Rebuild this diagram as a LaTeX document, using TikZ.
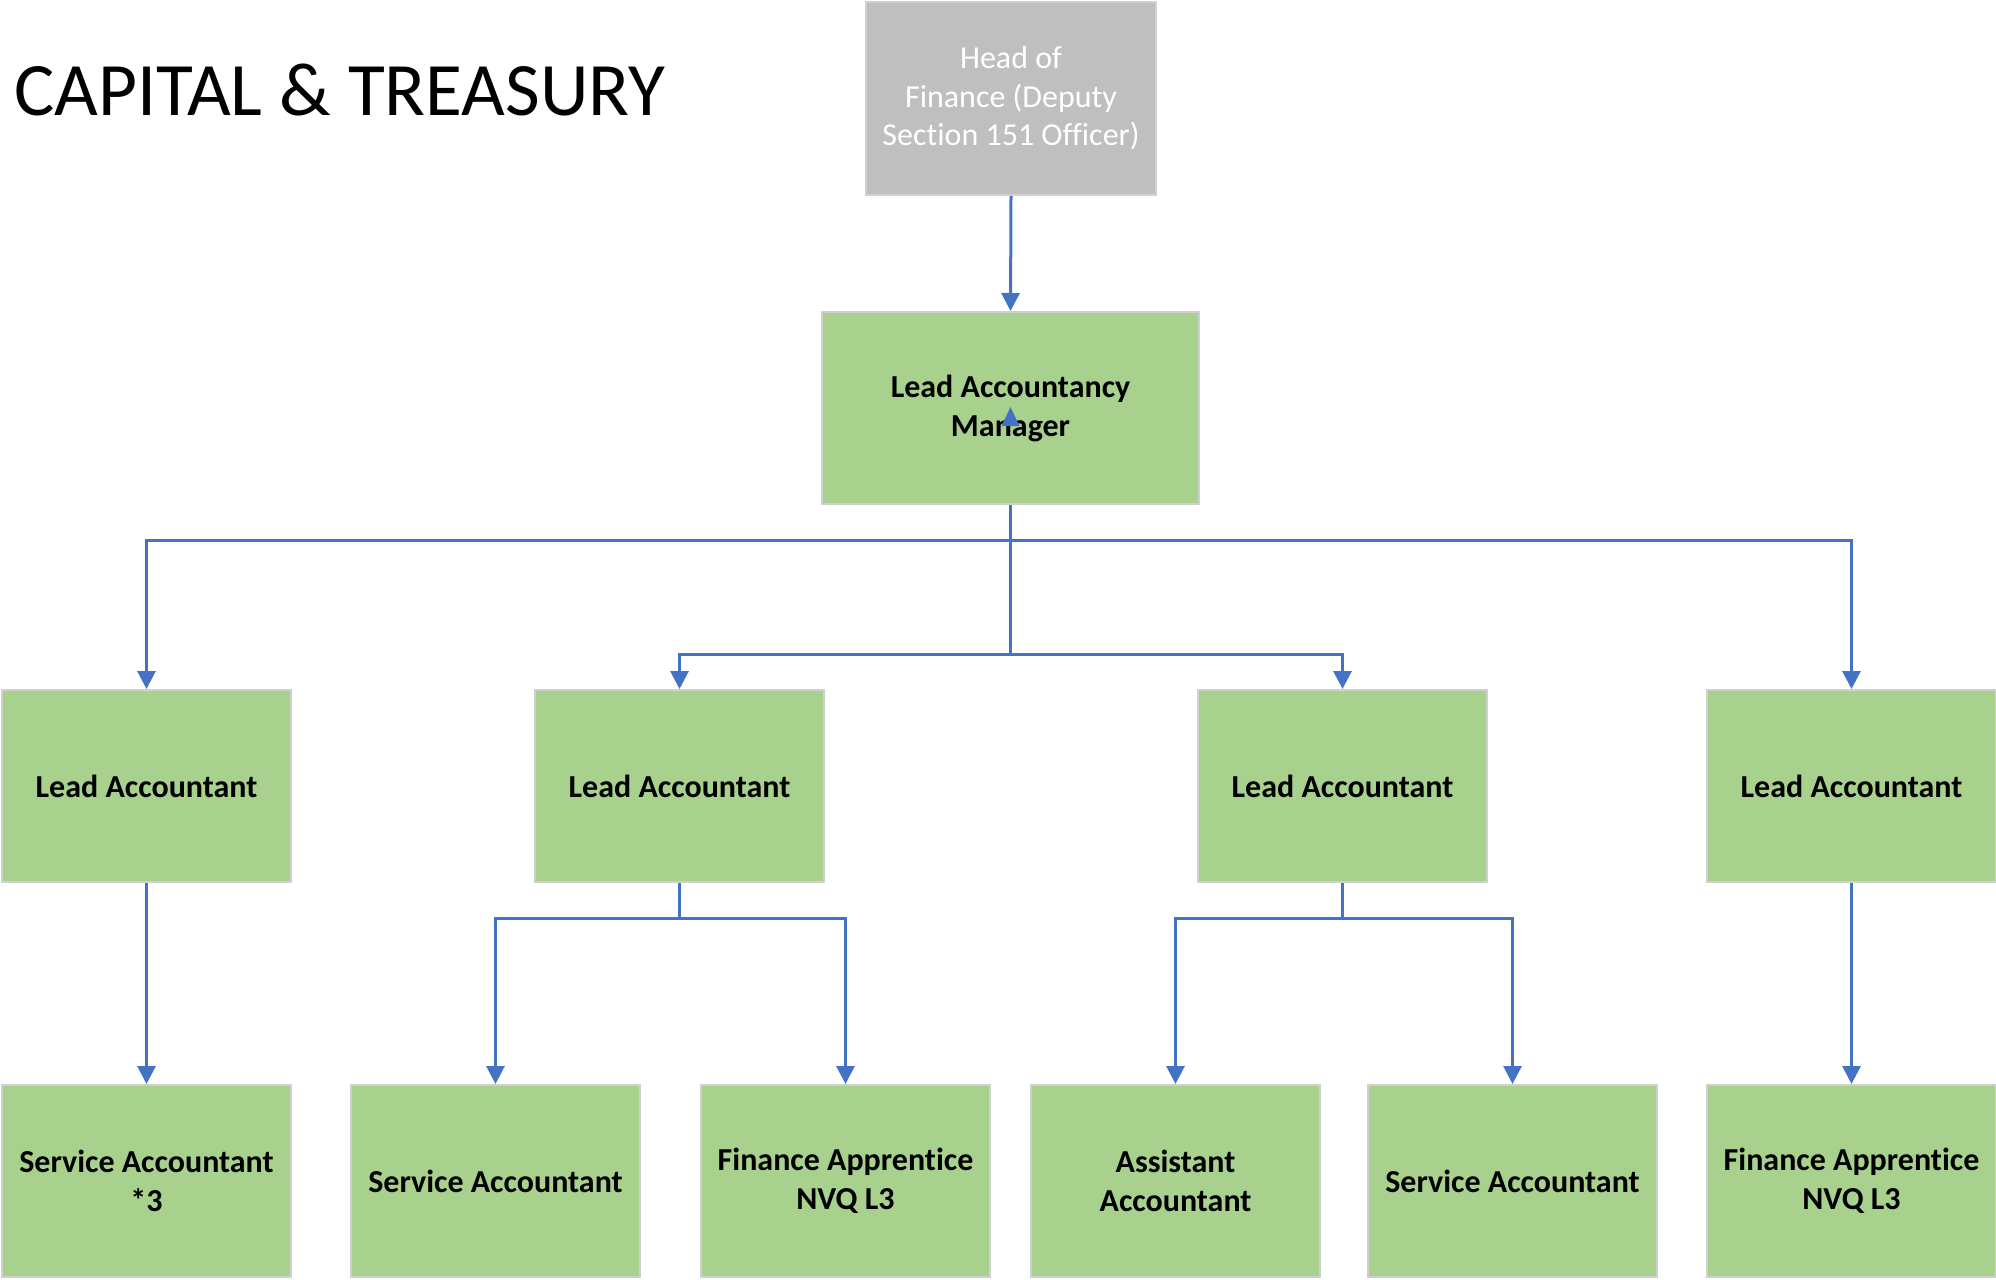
\documentclass[tikz,border=0pt]{standalone}
\usepackage{fontspec}
\setmainfont{Carlito}[Ligatures=NoCommon]
\usetikzlibrary{arrows.meta}
\definecolor{boxgreen}{HTML}{A9D18E}
\definecolor{boxgray}{HTML}{BFBFBF}
\definecolor{edgegray}{HTML}{D0D0D0}
\definecolor{linkblue}{HTML}{4472C4}
\tikzset{
  orgbox/.style={draw=edgegray, line width=2pt, fill=boxgreen, minimum width=289pt, minimum height=192pt, inner sep=0pt, align=center, font=\fontsize{32}{39}\selectfont\bfseries},
  headbox/.style={draw=edgegray, line width=2pt, fill=boxgray, minimum width=290pt, minimum height=193pt, inner sep=0pt, align=center, text=white, font=\fontsize{32}{38.5}\selectfont},
  conn/.style={draw=linkblue, line width=3pt},
  arr/.style={conn, -{Triangle[width=18pt,length=18pt]}},
}
\begin{document}
\begin{tikzpicture}[x=1pt,y=-1pt]
\useasboundingbox (0,0) rectangle (1996,1279);
\fill[white] (0,0) rectangle (1996,1279);

\node[anchor=base west, inner sep=0pt, font=\fontsize{75.5}{80}\selectfont] (title) at (14,116) {CAPITAL \& TREASURY};

\node[headbox] (head) at (1011,98.5) {Head of\\Finance (Deputy\\Section 151 Officer)};
\node[orgbox, minimum width=377pt] (mgr) at (1010.5,408) {Lead Accountancy\\Manager};

\node[orgbox] (LA1) at (146.5,786) {Lead Accountant};
\node[orgbox] (LA2) at (679.5,786) {Lead Accountant};
\node[orgbox] (LA3) at (1342.5,786) {Lead Accountant};
\node[orgbox] (LA4) at (1851.5,786) {Lead Accountant};

\node[orgbox] (SA1) at (146.5,1181) {Service Accountant\\*3};
\node[orgbox] (SA2) at (495.5,1181) {Service Accountant};
\node[orgbox] (FA1) at (845.5,1181) {Finance Apprentice\\NVQ L3};
\node[orgbox] (AA) at (1175.5,1181) {Assistant\\Accountant};
\node[orgbox] (SA3) at (1512.5,1181) {Service Accountant};
\node[orgbox] (FA2) at (1851.5,1181) {Finance Apprentice\\NVQ L3};

\coordinate (j1) at (1010.5,540);
\coordinate (j2) at (1010.5,654);
\coordinate (k2) at (679.5,918);
\coordinate (k3) at (1342.5,918);

\draw[arr] (head.south) -- (mgr.north);
\draw[conn] (mgr.south) -- (j2);
\draw[arr] (j1) -| (LA1.north);
\draw[arr] (j1) -| (LA4.north);
\draw[arr] (j2) -| (LA2.north);
\draw[arr] (j2) -| (LA3.north);

\draw[arr] (LA1.south) -- (SA1.north);
\draw[conn] (LA2.south) -- (k2);
\draw[arr] (k2) -| (SA2.north);
\draw[arr] (k2) -| (FA1.north);
\draw[conn] (LA3.south) -- (k3);
\draw[arr] (k3) -| (AA.north);
\draw[arr] (k3) -| (SA3.north);
\draw[arr] (LA4.south) -- (FA2.north);

% stray arrow tip inside the manager box
\fill[linkblue] (1010.5,407) -- (1019.5,426) -- (1001.5,426) -- cycle;
\end{tikzpicture}
\end{document}
